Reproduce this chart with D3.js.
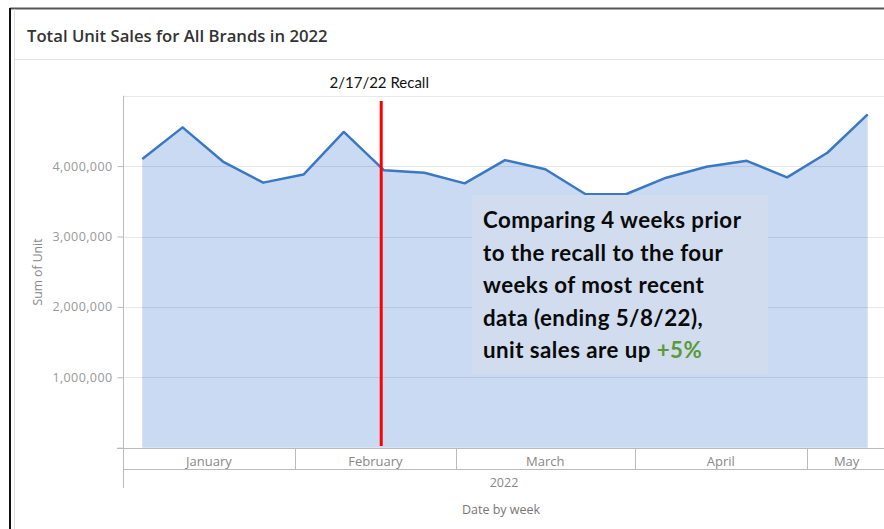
<!DOCTYPE html>
<html>
<head>
<meta charset="utf-8">
<script src="https://cdn.jsdelivr.net/npm/d3@7"></script>
<style>
  html, body { margin: 0; padding: 0; background: #fff; }
  svg { display: block; }
</style>
</head>
<body>
<svg id="chart" width="884" height="529"></svg>
<script>
// ---- data ----
const title = "Total Unit Sales for All Brands in 2022";
const weekStarts = ["2022-01-02","2022-01-09","2022-01-16","2022-01-23","2022-01-30",
  "2022-02-06","2022-02-13","2022-02-20","2022-02-27","2022-03-06","2022-03-13",
  "2022-03-20","2022-03-27","2022-04-03","2022-04-10","2022-04-17","2022-04-24",
  "2022-05-01","2022-05-08"];
const units = [4100000, 4550000, 4065000, 3765000, 3880000, 4485000, 3940000, 3905000,
  3755000, 4085000, 3955000, 3600000, 3600000, 3835000, 3990000, 4075000, 3840000,
  4190000, 4735000];
const months = ["January","February","March","April","May"];
const monthStarts = ["2022-01-01","2022-02-01","2022-03-01","2022-04-01","2022-05-01","2022-06-01"];
const yTicks = [0, 1000000, 2000000, 3000000, 4000000, 5000000];
const yearLabel = "2022";
const yTitle = "Sum of Unit";
const xTitle = "Date by week";
const recallDate = "2022-02-16";
const recallLabel = "2/17/22 Recall";
const noteLines = ["Comparing 4 weeks prior", "to the recall to the four",
  "weeks of most recent", "data (ending 5/8/22),", "unit sales are up "];
const noteHighlight = "+5%";

// ---- layout ----
const svg = d3.select("#chart");
const parse = d3.utcParse("%Y-%m-%d");
const pLeft = 123, pRight = 884, pTop = 95.7, pBottom = 447.7;

const x = d3.scaleUtc()
  .domain([parse("2022-01-01"), parse("2022-06-01")])
  .range([116.4, 116.4 + 151 * 5.757]);
const y = d3.scaleLinear().domain([0, 5000000]).range([pBottom, pTop]);
const mid = d => d3.utcHour.offset(parse(d), 84); // plotted at mid-week

const data = weekStarts.map((d, i) => ({ date: mid(d), v: units[i] }));

// card frame
svg.append("line").attr("x1", 10).attr("x2", 884).attr("y1", 8.5).attr("y2", 8.5)
  .attr("stroke", "#555").attr("stroke-width", 2);
svg.append("line").attr("x1", 10).attr("x2", 10).attr("y1", 8).attr("y2", 529)
  .attr("stroke", "#111").attr("stroke-width", 2);
svg.append("line").attr("x1", 14.5).attr("x2", 14.5).attr("y1", 9).attr("y2", 529)
  .attr("stroke", "#ddd").attr("stroke-width", 1);
svg.append("line").attr("x1", 15).attr("x2", 884).attr("y1", 59.5).attr("y2", 59.5)
  .attr("stroke", "#e3e3e3").attr("stroke-width", 1);

svg.append("text").attr("x", 27).attr("y", 42).text(title)
  .attr("font-family", "Open Sans").attr("font-weight", 600).attr("font-size", 16.7)
  .attr("fill", "#333");

// area + line
const area = d3.area().x(d => x(d.date)).y0(y(0)).y1(d => y(d.v));
const line = d3.line().x(d => x(d.date)).y(d => y(d.v));
svg.append("path").datum(data).attr("d", area).attr("fill", "#c9daf2");

// gridlines
svg.append("g").selectAll("line").data(yTicks.filter(t => t > 0)).join("line")
  .attr("x1", pLeft).attr("x2", pRight)
  .attr("y1", d => Math.round(y(d)) + 0.5).attr("y2", d => Math.round(y(d)) + 0.5)
  .attr("stroke", "rgba(0,0,0,0.09)");

svg.append("path").datum(data).attr("d", line).attr("fill", "none")
  .attr("stroke", "#3b78c4").attr("stroke-width", 2.5).attr("stroke-linejoin", "round");

// y axis
const yAxis = d3.axisLeft(y).tickValues(yTicks).tickSize(6).tickPadding(5)
  .tickFormat(d => (d === 0 || d === 5000000) ? "" : d3.format(",")(d));
const ya = svg.append("g").attr("transform", `translate(${pLeft + 0.5},0)`).call(yAxis);
ya.select(".domain").remove();
ya.selectAll(".tick line").attr("stroke", "#bbb");
ya.selectAll(".tick").filter(d => d === 5000000).select("line").remove();
ya.selectAll("text").attr("font-family", "Open Sans").attr("font-size", 12.5)
  .attr("letter-spacing", 0.4).attr("fill", "#999");
svg.append("line").attr("x1", pLeft + 0.5).attr("x2", pLeft + 0.5).attr("y1", pTop).attr("y2", 488)
  .attr("stroke", "#bbb");

svg.append("text").attr("transform", `translate(42,272) rotate(-90)`)
  .attr("text-anchor", "middle").text(yTitle)
  .attr("font-family", "Open Sans").attr("font-size", 12.2).attr("fill", "#888");

// x axis (month boxes)
svg.append("line").attr("x1", 117).attr("x2", pRight).attr("y1", 448.5).attr("y2", 448.5).attr("stroke", "#bbb");
svg.append("line").attr("x1", pLeft).attr("x2", pRight).attr("y1", 469.5).attr("y2", 469.5).attr("stroke", "#bbb");
const mb = months.map((m, i) => ({
  name: m,
  x0: Math.max(pLeft, x(parse(monthStarts[i]))),
  x1: Math.min(pRight + 2, x(parse(monthStarts[i + 1])))
}));
svg.append("g").selectAll("line").data(mb.slice(1)).join("line")
  .attr("x1", d => Math.round(d.x0) + 0.5).attr("x2", d => Math.round(d.x0) + 0.5)
  .attr("y1", 448).attr("y2", 469).attr("stroke", "#bbb");
svg.append("g").selectAll("text").data(mb).join("text")
  .attr("x", d => (d.x0 + d.x1) / 2).attr("y", 465.5).attr("text-anchor", "middle")
  .text(d => d.name).attr("font-family", "Open Sans").attr("font-size", 13).attr("fill", "#888");
svg.append("text").attr("x", 504).attr("y", 486.5).attr("text-anchor", "middle").text(yearLabel)
  .attr("font-family", "Open Sans").attr("font-size", 12.5).attr("fill", "#888");
svg.append("text").attr("x", 501).attr("y", 513.5).attr("text-anchor", "middle").text(xTitle)
  .attr("font-family", "Open Sans").attr("font-size", 12.5).attr("fill", "#777");

// recall marker
const rx = x(parse(recallDate));
svg.append("line").attr("x1", rx).attr("x2", rx).attr("y1", 101).attr("y2", 446)
  .attr("stroke", "#ff0000").attr("stroke-width", 3);
svg.append("text").attr("x", rx - 2).attr("y", 88).attr("text-anchor", "middle").text(recallLabel)
  .attr("font-family", "Lato").attr("font-size", 15).attr("fill", "#111");

// annotation box
svg.append("rect").attr("x", 472).attr("y", 195).attr("width", 296).attr("height", 179)
  .attr("fill", "#d1ddee");
const note = svg.append("text").attr("font-family", "Lato").attr("font-weight", 700)
  .attr("font-size", 22.3).attr("letter-spacing", 0.45).attr("fill", "#0a0a0a");
noteLines.forEach((t, i) => {
  note.append("tspan").attr("x", 483).attr("y", 228 + i * 32.5).text(t);
  if (i === noteLines.length - 1) {
    note.append("tspan").text(noteHighlight).attr("fill", "#5b9a3a");
  }
});
</script>
</body>
</html>
